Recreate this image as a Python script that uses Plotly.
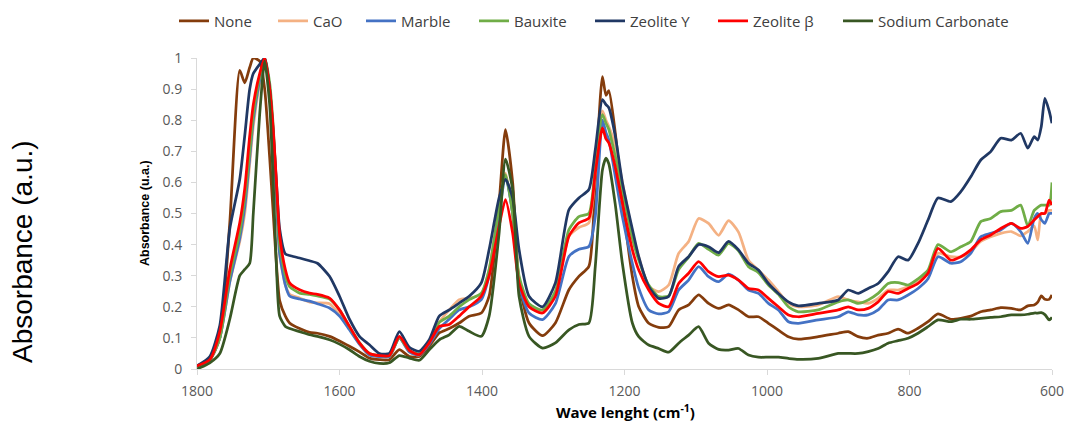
import plotly.graph_objects as go

# Wavenumber grid (cm-1)
wavenumber = [
    1800, 1782, 1768, 1754, 1740, 1733, 1726, 1721, 1712, 1705,
    1698, 1693, 1688, 1684, 1676, 1670, 1656, 1642, 1631, 1614,
    1600, 1586, 1572, 1558, 1544, 1530, 1516, 1502, 1488, 1474,
    1460, 1446, 1432, 1418, 1401, 1390, 1376, 1367, 1357, 1348,
    1334, 1315, 1297, 1278, 1264, 1250, 1241, 1231, 1226, 1222,
    1213, 1203, 1189, 1180, 1166, 1152, 1138, 1124, 1110, 1096,
    1082, 1068, 1054, 1040, 1026, 1012, 998, 984, 970, 956,
    928, 900, 886, 872, 858, 844, 830, 816, 802, 788,
    774, 760, 742, 728, 714, 700, 686, 672, 657, 644,
    634, 625, 620, 615, 610, 604, 600,
]

none = [
    0.01, 0.03, 0.10, 0.47, 0.96, 0.92, 0.97, 1.00, 0.99, 0.90,
    0.68, 0.50, 0.32, 0.22, 0.17, 0.148, 0.13, 0.118, 0.115, 0.105,
    0.09, 0.073, 0.055, 0.035, 0.03, 0.03, 0.062, 0.04, 0.04, 0.073,
    0.116, 0.13, 0.148, 0.17, 0.18, 0.234, 0.534, 0.77, 0.60, 0.277,
    0.148, 0.107, 0.148, 0.255, 0.298, 0.33, 0.60, 0.94, 0.88, 0.895,
    0.76, 0.545, 0.298, 0.20, 0.147, 0.134, 0.136, 0.19, 0.206, 0.238,
    0.211, 0.195, 0.206, 0.19, 0.168, 0.168, 0.147, 0.125, 0.104, 0.096,
    0.104, 0.115, 0.12, 0.104, 0.099, 0.109, 0.115, 0.128, 0.115, 0.131,
    0.152, 0.177, 0.16, 0.163, 0.17, 0.184, 0.19, 0.197, 0.195, 0.19,
    0.203, 0.206, 0.215, 0.235, 0.224, 0.224, 0.238,
]

cao = [
    0.01, 0.03, 0.10, 0.28, 0.41, 0.50, 0.66, 0.78, 0.92, 1.00,
    0.90, 0.74, 0.52, 0.37, 0.27, 0.24, 0.228, 0.215, 0.213, 0.21,
    0.175, 0.13, 0.08, 0.045, 0.04, 0.04, 0.10, 0.055, 0.045, 0.085,
    0.15, 0.19, 0.223, 0.228, 0.24, 0.32, 0.52, 0.63, 0.50, 0.29,
    0.20, 0.185, 0.24, 0.427, 0.455, 0.47, 0.63, 0.83, 0.80, 0.78,
    0.72, 0.60, 0.44, 0.36, 0.265, 0.249, 0.27, 0.372, 0.41, 0.484,
    0.468, 0.43, 0.477, 0.44, 0.35, 0.318, 0.286, 0.249, 0.211, 0.20,
    0.206, 0.233, 0.222, 0.216, 0.211, 0.227, 0.254, 0.254, 0.265, 0.286,
    0.308, 0.372, 0.361, 0.361, 0.377, 0.41, 0.425, 0.436, 0.442, 0.428,
    0.442, 0.46, 0.415, 0.50, 0.50, 0.51, 0.51,
]

marble = [
    0.01, 0.03, 0.10, 0.28, 0.42, 0.52, 0.68, 0.80, 0.93, 1.00,
    0.90, 0.74, 0.52, 0.37, 0.27, 0.235, 0.225, 0.218, 0.21, 0.196,
    0.17, 0.126, 0.08, 0.045, 0.04, 0.04, 0.10, 0.055, 0.045, 0.08,
    0.13, 0.16, 0.19, 0.20, 0.223, 0.30, 0.50, 0.62, 0.50, 0.27,
    0.18, 0.159, 0.21, 0.362, 0.385, 0.394, 0.49, 0.80, 0.76, 0.737,
    0.62, 0.49, 0.34, 0.26, 0.19, 0.177, 0.184, 0.254, 0.286, 0.329,
    0.297, 0.281, 0.305, 0.286, 0.254, 0.243, 0.211, 0.19, 0.152, 0.147,
    0.158, 0.168, 0.184, 0.174, 0.174, 0.19, 0.222, 0.222, 0.238, 0.259,
    0.29, 0.361, 0.34, 0.345, 0.372, 0.425, 0.436, 0.447, 0.468, 0.442,
    0.404, 0.484, 0.50, 0.48, 0.468, 0.50, 0.50,
]

bauxite = [
    0.01, 0.03, 0.10, 0.30, 0.44, 0.55, 0.70, 0.82, 0.94, 1.00,
    0.92, 0.78, 0.56, 0.40, 0.30, 0.265, 0.244, 0.24, 0.235, 0.225,
    0.19, 0.135, 0.085, 0.05, 0.043, 0.043, 0.10, 0.06, 0.048, 0.09,
    0.15, 0.17, 0.20, 0.223, 0.244, 0.32, 0.52, 0.625, 0.50, 0.30,
    0.21, 0.19, 0.25, 0.448, 0.49, 0.50, 0.65, 0.818, 0.79, 0.77,
    0.684, 0.577, 0.42, 0.35, 0.27, 0.233, 0.235, 0.32, 0.36, 0.404,
    0.385, 0.366, 0.404, 0.38, 0.329, 0.31, 0.27, 0.24, 0.20, 0.184,
    0.19, 0.216, 0.222, 0.211, 0.222, 0.243, 0.275, 0.278, 0.27, 0.29,
    0.318, 0.40, 0.377, 0.393, 0.41, 0.474, 0.484, 0.506, 0.51, 0.527,
    0.46, 0.51, 0.52, 0.527, 0.527, 0.527, 0.60,
]

zeolite_y = [
    0.01, 0.04, 0.14, 0.45, 0.61, 0.75, 0.90, 0.95, 0.98, 1.00,
    0.90, 0.76, 0.58, 0.45, 0.37, 0.365, 0.357, 0.348, 0.34, 0.298,
    0.234, 0.16, 0.105, 0.078, 0.05, 0.05, 0.12, 0.07, 0.057, 0.094,
    0.17, 0.19, 0.212, 0.234, 0.277, 0.384, 0.55, 0.61, 0.55, 0.384,
    0.234, 0.20, 0.277, 0.512, 0.55, 0.577, 0.705, 0.866, 0.85, 0.84,
    0.75, 0.60, 0.45, 0.361, 0.265, 0.227, 0.233, 0.33, 0.361, 0.40,
    0.393, 0.374, 0.41, 0.383, 0.34, 0.318, 0.275, 0.243, 0.216, 0.203,
    0.211, 0.222, 0.254, 0.243, 0.259, 0.275, 0.313, 0.361, 0.35, 0.404,
    0.479, 0.55, 0.538, 0.57, 0.618, 0.672, 0.699, 0.742, 0.736, 0.758,
    0.71, 0.747, 0.736, 0.78, 0.87, 0.83, 0.79,
]

zeolite_beta = [
    0.01, 0.03, 0.12, 0.32, 0.47, 0.58, 0.75, 0.85, 0.95, 1.00,
    0.90, 0.77, 0.58, 0.43, 0.32, 0.277, 0.255, 0.244, 0.24, 0.228,
    0.19, 0.137, 0.084, 0.05, 0.043, 0.043, 0.105, 0.06, 0.046, 0.084,
    0.137, 0.143, 0.17, 0.20, 0.234, 0.30, 0.46, 0.545, 0.437, 0.277,
    0.20, 0.18, 0.234, 0.427, 0.47, 0.485, 0.63, 0.775, 0.74, 0.727,
    0.65, 0.534, 0.384, 0.318, 0.254, 0.211, 0.20, 0.275, 0.308, 0.345,
    0.313, 0.297, 0.302, 0.286, 0.259, 0.254, 0.227, 0.20, 0.174, 0.168,
    0.179, 0.19, 0.20, 0.19, 0.195, 0.216, 0.249, 0.243, 0.259, 0.275,
    0.308, 0.388, 0.35, 0.361, 0.383, 0.415, 0.431, 0.452, 0.468, 0.452,
    0.458, 0.479, 0.49, 0.50, 0.50, 0.543, 0.527,
]

sodium_carbonate = [
    0.00, 0.02, 0.05, 0.16, 0.30, 0.32, 0.34, 0.50, 0.82, 0.99,
    0.85, 0.60, 0.30, 0.17, 0.137, 0.13, 0.12, 0.11, 0.105, 0.094,
    0.08, 0.062, 0.04, 0.025, 0.018, 0.02, 0.043, 0.035, 0.028, 0.062,
    0.094, 0.11, 0.137, 0.121, 0.105, 0.17, 0.437, 0.675, 0.577, 0.234,
    0.105, 0.067, 0.084, 0.126, 0.143, 0.148, 0.33, 0.64, 0.678, 0.66,
    0.53, 0.34, 0.148, 0.104, 0.077, 0.066, 0.054, 0.083, 0.109, 0.136,
    0.083, 0.063, 0.061, 0.066, 0.045, 0.038, 0.038, 0.038, 0.034, 0.031,
    0.034, 0.05, 0.05, 0.05, 0.056, 0.066, 0.083, 0.091, 0.099, 0.115,
    0.136, 0.158, 0.152, 0.16, 0.16, 0.163, 0.166, 0.168, 0.174, 0.174,
    0.176, 0.18, 0.18, 0.181, 0.175, 0.158, 0.166,
]

series_names = ["None", "CaO", "Marble", "Bauxite", "Zeolite Y", "Zeolite β", "Sodium Carbonate"]
series_values = [none, cao, marble, bauxite, zeolite_y, zeolite_beta, sodium_carbonate]
series_colors = ["#843C0C", "#F4B183", "#4472C4", "#70AD47", "#203864", "#FF0000", "#385723"]

x_ticks = [1800, 1600, 1400, 1200, 1000, 800, 600]
y_ticks = [0, 0.1, 0.2, 0.3, 0.4, 0.5, 0.6, 0.7, 0.8, 0.9, 1]

# pixel layout of the plot area
PL, PR, PT, PB = 197, 1052, 58, 369
PW, PH = PR - PL, PB - PT

# left pixel where each legend label's text begins
legend_text_px = [214, 313, 401, 514, 630, 753, 878]
legend_font = dict(family="Open Sans, Liberation Sans, sans-serif", size=15, color="#404040")

fig = go.Figure()
legend_layouts = {}
for i, (name, vals, col, tx) in enumerate(zip(series_names, series_values, series_colors, legend_text_px)):
    key = "legend" if i == 0 else f"legend{i + 1}"
    fig.add_trace(go.Scatter(
        x=wavenumber, y=vals, name=name, mode="lines", legend=key,
        line=dict(color=col, width=2.75, shape="spline", smoothing=0.6),
    ))
    legend_layouts[key] = dict(
        orientation="h", x=(tx - 40 - PL) / PW, xanchor="left",
        y=(PB - 21) / PH, yanchor="middle", font=legend_font,
        itemwidth=30, bgcolor="rgba(0,0,0,0)", borderwidth=0,
    )

tick_font = dict(family="Open Sans, Liberation Sans, sans-serif", size=14, color="#595959")

fig.update_layout(
    width=1067, height=423,
    margin=dict(l=PL, r=1067 - PR, t=PT, b=423 - PB, autoexpand=False),
    paper_bgcolor="white", plot_bgcolor="white",
    showlegend=True,
    xaxis=dict(
        range=[1800, 600], tickvals=x_ticks, ticktext=[str(t) for t in x_ticks],
        showgrid=False, zeroline=False, showline=True, linecolor="#D9D9D9", linewidth=1,
        ticks="outside", ticklen=5, tickcolor="#D9D9D9", tickfont=tick_font,
        ticklabelstandoff=4,
    ),
    yaxis=dict(
        range=[0, 1], tickvals=y_ticks, ticktext=[("%g" % t) for t in y_ticks],
        showgrid=False, zeroline=False, showline=True, linecolor="#D9D9D9", linewidth=1,
        ticks="outside", ticklen=5, tickcolor="#D9D9D9", tickfont=tick_font,
        ticklabelstandoff=6,
    ),
    annotations=[
        dict(text="<b>Wave lenght (cm<sup>-1</sup>)</b>", xref="paper", yref="paper",
             x=(625 - PL) / PW, y=(PB - 411) / PH, xanchor="center", yanchor="middle", showarrow=False,
             font=dict(family="Open Sans, Liberation Sans, sans-serif", size=15, color="#000000")),
        dict(text="<b>Absorbance (u.a.)</b>", xref="paper", yref="paper",
             x=(145 - PL) / PW, y=(PB - 213) / PH, xanchor="center", yanchor="middle", textangle=-90,
             showarrow=False,
             font=dict(family="Liberation Sans, Arial, sans-serif", size=12.5, color="#000000")),
        dict(text="Absorbance (a.u.)", xref="paper", yref="paper",
             x=(22 - PL) / PW, y=(PB - 252) / PH, xanchor="center", yanchor="middle",
             textangle=-90, showarrow=False,
             font=dict(family="Liberation Sans, Arial, sans-serif", size=28, color="#000000")),
    ],
)
fig.update_layout(**legend_layouts)

fig.write_html(
    "out.html",
    config={"displayModeBar": False},
    post_script="document.body.style.margin='0';document.body.style.padding='0';",
)
